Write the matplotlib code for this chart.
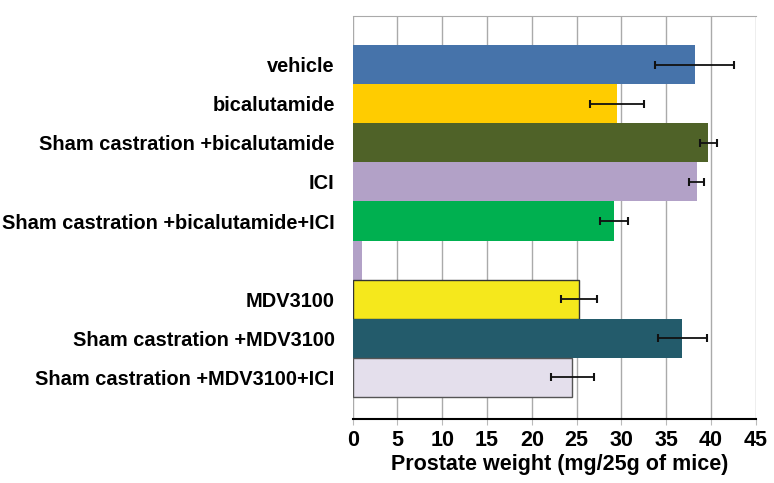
import matplotlib.pyplot as plt

plt.rcParams['font.family'] = ['Liberation Sans', 'DejaVu Sans']

# data
labels = ['vehicle', 'bicalutamide', 'Sham castration +bicalutamide', 'ICI',
          'Sham castration +bicalutamide+ICI', '', 'MDV3100',
          'Sham castration +MDV3100', 'Sham castration +MDV3100+ICI']
values = [38.2, 29.5, 39.7, 38.4, 29.2, 1.0, 25.3, 36.8, 24.5]
errors = [4.4, 3.0, 0.95, 0.85, 1.55, 0, 2.0, 2.75, 2.4]
colors = ['#4673AA', '#FFCC00', '#4F6228', '#B2A1C7', '#00B050', '#B2A1C7',
          '#F5E81C', '#235B6B', '#E4DFEC']
edges = [None, None, None, None, None, None, '#333333', None, '#555555']

fig = plt.figure(figsize=(7.74, 4.83), dpi=100)
ax = fig.add_axes([0.4557, 0.1325, 0.5207, 0.8344])

ypos = list(range(len(labels)))
for i in ypos:
    ec = edges[i] if edges[i] else colors[i]
    lw = 1.0 if edges[i] else 0
    ax.barh(i, values[i], height=1.0, color=colors[i], edgecolor=ec,
            linewidth=lw, zorder=2)
    if errors[i] > 0:
        ax.errorbar(values[i], i, xerr=errors[i], fmt='none', ecolor='#111111',
                    elinewidth=1.3, capsize=3, capthick=1.5, zorder=3)

ax.set_xlim(0, 45)
ax.set_ylim(9.064, -1.244)
ax.set_xticks(range(0, 50, 5))
ax.set_yticks(ypos)
ax.set_yticklabels(labels, fontsize=14.4, fontweight='bold')
ax.tick_params(axis='y', length=0, pad=13)
ax.tick_params(axis='x', direction='out', length=4, color='#BBBBBB',
               labelsize=15.5, pad=4)
for t in ax.get_xticklabels():
    t.set_fontweight('bold')

ax.grid(axis='x', color='#AAAAAA', linewidth=1.0, zorder=0)
ax.set_axisbelow(True)
for s in ['left', 'right']:
    ax.spines[s].set_visible(False)
ax.spines['top'].set_color('#AAAAAA')
ax.spines['bottom'].set_color('black')
ax.spines['bottom'].set_linewidth(1.5)

ax.set_xlabel('Prostate weight (mg/25g of mice)', fontsize=15.5,
              fontweight='bold')
ax.xaxis.set_label_coords(0.514, -0.087)

fig.savefig('out.png', dpi=100)
